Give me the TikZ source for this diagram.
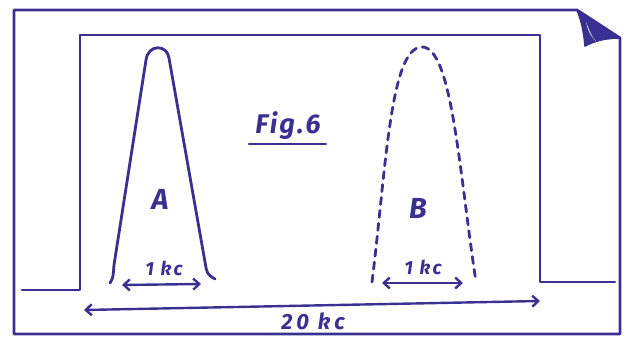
\documentclass[tikz,border=0pt]{standalone}
\usepackage{fontspec}
\setmainfont{Fira Sans}
\usetikzlibrary{arrows.meta}
\definecolor{ink}{RGB}{58,48,145}
\tikzset{
  pen/.style={draw=ink, line width=2.8pt, line cap=round, line join=round},
  dashpen/.style={pen, dash pattern=on 7pt off 6pt},
  dim/.style={draw=ink, line width=2.4pt, {Straight Barb[length=6pt,width=11pt]}-{Straight Barb[length=6pt,width=11pt]}},
  lbl/.style={text=ink, font=\bfseries\itshape, inner sep=0pt}
}
\begin{document}
\begin{tikzpicture}[x=1pt,y=-1pt]
\useasboundingbox (0,0) rectangle (630,337);
% outer frame with folded corner
\coordinate (o1) at (14,334);
\coordinate (o2) at (14,10);
\coordinate (o3) at (577,10);
\coordinate (o4) at (620,38);
\coordinate (o5) at (620,334);
\coordinate (ft) at (585,46);
\draw[pen] (o1) -- (o2) -- (o3) -- (o4) -- (o5) -- cycle;
\fill[ink] (o3) .. controls (582,22) and (584,34) .. (ft) .. controls (596,40) and (608,38) .. (o4) -- cycle;
\fill[white] (586,22) .. controls (590,32) and (592,38) .. (596,41) .. controls (590,36) and (588,30) .. (586,22) -- cycle;
\draw[pen, line width=1.6pt] (o3) .. controls (582,22) and (584,34) .. (ft) .. controls (596,40) and (608,38) .. (o4);
% inner spectrum outline
\coordinate (i1) at (22,290);
\coordinate (i2) at (80,290);
\coordinate (i3) at (80,35);
\coordinate (i4) at (540,35);
\coordinate (i5) at (540,282);
\coordinate (i6) at (615,282);
\draw[pen] (i1) -- (i2) -- (i3) -- (i4) -- (i5) -- (i6);
% peak A
\draw[pen] (110,283) .. controls (113,278) .. (114,265) -- (146,60)
  .. controls (148,44) and (167,44) .. (169,58) -- (205,262)
  .. controls (207,274) .. (215,279);
% peak B (dashed)
\draw[dashpen] (372,282) .. controls (386,170) and (390,47) .. (422,47)
  .. controls (452,47) and (459,170) .. (476,282);
% labels
\node[lbl, font=\bfseries\itshape\fontsize{29}{29}\selectfont] (A) at (160,199) {A};
\node[lbl, font=\bfseries\itshape\fontsize{29}{29}\selectfont] (B) at (418,208) {B};
\node[lbl, font=\bfseries\itshape\fontsize{27}{27}\selectfont\addfontfeature{LetterSpace=8}] (fig) at (288,126) {Fig.6};
\coordinate (u1) at (249,144);
\coordinate (u2) at (326,144);
\draw[pen, line width=2.2pt] (u1) -- (u2);
% 1 kc arrows
\coordinate (a1) at (122,285);
\coordinate (a2) at (201,284);
\draw[dim] (a1) -- (a2);
\node[lbl, font=\bfseries\itshape\fontsize{19}{19}\selectfont\addfontfeature{LetterSpace=12}] (ka) at (164,268) {1 kc};
\coordinate (b1) at (382,283);
\coordinate (b2) at (463,283);
\draw[dim] (b1) -- (b2);
\node[lbl, font=\bfseries\itshape\fontsize{19}{19}\selectfont\addfontfeature{LetterSpace=12}] (kb) at (423,267) {1 kc};
% 20 kc arrow
\coordinate (c1) at (84,310);
\coordinate (c2) at (540,301);
\draw[dim] (c1) -- (c2);
\node[lbl, font=\bfseries\itshape\fontsize{22}{22}\selectfont\addfontfeature{LetterSpace=18}] (kc) at (313,321) {20 kc};
\end{tikzpicture}
\end{document}
